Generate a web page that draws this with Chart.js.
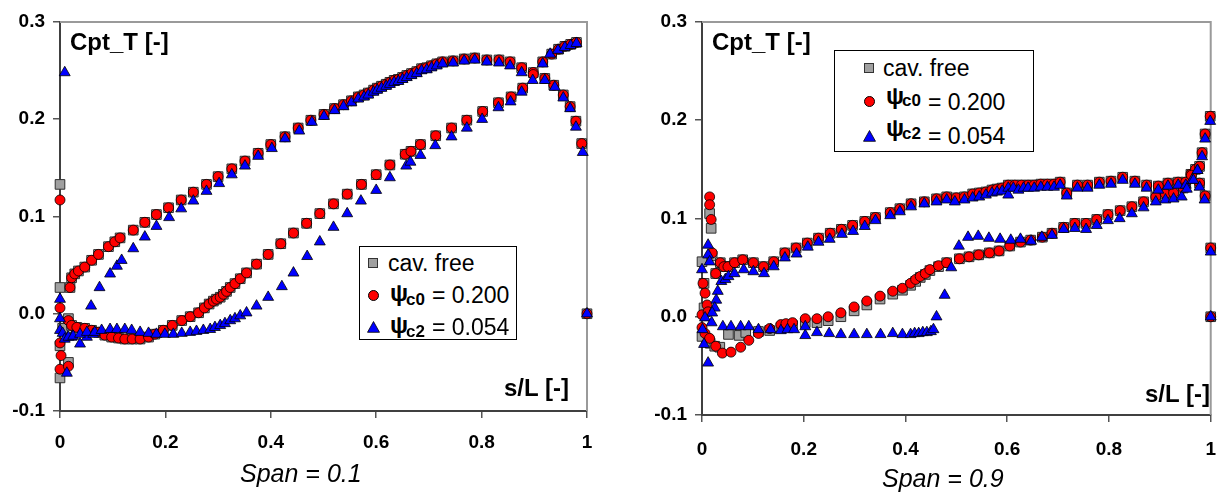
<!DOCTYPE html>
<html>
<head>
<meta charset="utf-8">
<script src="https://cdn.jsdelivr.net/npm/chart.js@4.4.1/dist/chart.umd.min.js"></script>
<style>
  body { margin:0; background:#fff; width:1232px; height:494px; position:relative; overflow:hidden;
         font-family:'Liberation Sans', Arial, sans-serif; color:#000; }
  .panel { position:absolute; top:0; width:616px; height:494px; }
  .lbl { position:absolute; line-height:1; white-space:nowrap; }
  .b { font-weight:bold; }
  .legend { position:absolute; border:1px solid #000; box-sizing:border-box; background:#fff; }
  .mk { position:absolute; box-sizing:border-box; }
  .sq { width:10px; height:10px; background:#a0a0a0; border:1px solid #333; }
  .ci { width:11px; height:11px; border-radius:50%; background:#f00; border:1px solid #000; }
</style>
</head>
<body>
<div class="panel" style="left:0"><canvas id="c1" width="616" height="494"></canvas></div>
<div class="panel" style="left:616px"><canvas id="c2" width="616" height="494"></canvas></div>

<!-- labels, span 0.1 -->
<div class="lbl b" style="left:70px;top:30px;font-size:24px">Cpt_T [-]</div>
<div class="lbl b" style="left:504px;top:376px;font-size:24px">s/L [-]</div>
<div class="lbl" style="left:240px;top:461px;font-size:25px;font-style:italic">Span = 0.1</div>

<div class="legend" style="left:359px;top:246px;width:158px;height:94px"></div>
<div class="mk sq" style="left:368px;top:258px"></div>
<div class="lbl" style="left:388px;top:252px;font-size:23px">cav. free</div>
<div class="mk ci" style="left:368px;top:290px"></div>
<div class="lbl b" style="left:390px;top:281px;font-size:24px">ψ</div>
<div class="lbl b" style="left:406px;top:291px;font-size:17px">c0</div>
<div class="lbl" style="left:432px;top:284px;font-size:23px">= 0.200</div>
<svg class="mk" width="13" height="12" style="left:367px;top:321px"><polygon points="6.5,0.5 12.5,11.3 0.5,11.3" fill="#0000ff" stroke="#000" stroke-width="0.8"/></svg>
<div class="lbl b" style="left:390px;top:313px;font-size:24px">ψ</div>
<div class="lbl b" style="left:406px;top:323px;font-size:17px">c2</div>
<div class="lbl" style="left:432px;top:316px;font-size:23px">= 0.054</div>

<!-- labels, span 0.9 -->
<div class="lbl b" style="left:712px;top:30px;font-size:24px">Cpt_T [-]</div>
<div class="lbl b" style="left:1145px;top:382px;font-size:24px">s/L [-]</div>
<div class="lbl" style="left:882px;top:466px;font-size:25px;font-style:italic">Span = 0.9</div>

<div class="legend" style="left:834px;top:50px;width:200px;height:102px"></div>
<div class="mk sq" style="left:864px;top:63px"></div>
<div class="lbl" style="left:883px;top:57px;font-size:23px">cav. free</div>
<div class="mk ci" style="left:864px;top:96px"></div>
<div class="lbl b" style="left:886px;top:84px;font-size:24px">ψ</div>
<div class="lbl b" style="left:902px;top:92px;font-size:17px">c0</div>
<div class="lbl" style="left:928px;top:91px;font-size:23px">= 0.200</div>
<svg class="mk" width="13" height="12" style="left:863px;top:130px"><polygon points="6.5,0.5 12.5,11.3 0.5,11.3" fill="#0000ff" stroke="#000" stroke-width="0.8"/></svg>
<div class="lbl b" style="left:886px;top:116px;font-size:24px">ψ</div>
<div class="lbl b" style="left:902px;top:125px;font-size:17px">c2</div>
<div class="lbl" style="left:928px;top:125px;font-size:23px">= 0.054</div>

<script>
// series labels
const seriesLabels = ['cav. free', 'ψc0 = 0.200', 'ψc2 = 0.054'];

// Span = 0.1 : [s/L, Cpt_T]
const span1Free = [
  [0.000,0.133],[0.000,0.027],[0.000,-0.033],[0.000,-0.066],[0.016,-0.050],[0.016,-0.005],[0.005,-0.015],
  [0.019,0.027],[0.022,0.037],[0.028,0.041],[0.035,0.044],[0.047,0.048],[0.060,0.055],[0.073,0.061],[0.092,0.069],
  [0.104,0.074],[0.114,0.078],[0.139,0.086],[0.161,0.094],[0.183,0.102],[0.206,0.109],[0.230,0.117],[0.253,0.125],
  [0.278,0.133],[0.300,0.141],[0.326,0.149],[0.351,0.157],[0.376,0.165],[0.400,0.174],[0.427,0.182],[0.452,0.191],
  [0.476,0.199],[0.501,0.205],[0.521,0.211],[0.538,0.215],[0.553,0.219],[0.566,0.223],[0.577,0.225],[0.585,0.227],
  [0.595,0.230],[0.602,0.232],[0.610,0.234],[0.619,0.236],[0.626,0.238],[0.634,0.240],[0.642,0.241],[0.650,0.243],
  [0.658,0.245],[0.667,0.247],[0.677,0.249],[0.686,0.252],[0.696,0.253],[0.705,0.255],[0.715,0.257],[0.726,0.259],
  [0.746,0.260],[0.767,0.262],[0.787,0.263],[0.810,0.261],[0.833,0.261],[0.854,0.259],[0.876,0.253],[0.898,0.248],
  [0.920,0.242],[0.937,0.235],[0.955,0.225],[0.968,0.213],[0.979,0.198],[0.990,0.175],[1.000,0.000],
  [0.022,-0.012],[0.032,-0.014],[0.047,-0.015],[0.060,-0.017],[0.073,-0.019],[0.085,-0.022],[0.098,-0.024],
  [0.111,-0.025],[0.123,-0.026],[0.137,-0.026],[0.152,-0.026],[0.168,-0.024],[0.180,-0.021],[0.196,-0.017],
  [0.213,-0.012],[0.231,-0.007],[0.247,-0.003],[0.263,0.001],[0.274,0.006],[0.283,0.010],[0.291,0.013],[0.297,0.015],
  [0.304,0.017],[0.310,0.020],[0.316,0.023],[0.323,0.027],[0.332,0.031],[0.342,0.036],[0.354,0.042],[0.373,0.051],
  [0.395,0.061],[0.419,0.072],[0.443,0.083],[0.468,0.093],[0.493,0.103],[0.519,0.113],[0.545,0.123],[0.572,0.133],
  [0.600,0.143],[0.626,0.153],[0.655,0.164],[0.666,0.167],[0.684,0.174],[0.713,0.183],[0.743,0.191],[0.772,0.199],
  [0.802,0.208],[0.832,0.217],[0.856,0.223],[0.878,0.232],[0.916,0.259],[0.933,0.267],[0.946,0.272],[0.958,0.275],
  [0.969,0.277],[0.980,0.279]
];
const span1Psi0 = [
  [0.000,0.117],[0.000,0.006],[0.000,-0.030],[0.002,-0.043],[0.000,-0.057],[0.016,-0.054],
  [0.019,0.027],[0.022,0.037],[0.028,0.041],[0.035,0.044],[0.047,0.048],[0.060,0.055],[0.073,0.061],[0.092,0.069],
  [0.104,0.074],[0.114,0.078],[0.139,0.086],[0.161,0.094],[0.183,0.102],[0.206,0.109],[0.230,0.117],[0.253,0.125],
  [0.278,0.133],[0.300,0.141],[0.326,0.149],[0.351,0.157],[0.376,0.165],[0.400,0.174],[0.427,0.182],[0.452,0.191],
  [0.476,0.199],[0.501,0.205],[0.521,0.211],[0.538,0.215],[0.553,0.219],[0.566,0.223],[0.577,0.225],[0.585,0.227],
  [0.595,0.230],[0.602,0.232],[0.610,0.234],[0.619,0.236],[0.626,0.238],[0.634,0.240],[0.642,0.241],[0.650,0.243],
  [0.658,0.245],[0.667,0.247],[0.677,0.249],[0.686,0.252],[0.696,0.253],[0.705,0.255],[0.715,0.257],[0.726,0.259],
  [0.746,0.260],[0.767,0.262],[0.787,0.263],[0.810,0.261],[0.833,0.261],[0.854,0.259],[0.876,0.253],[0.898,0.248],
  [0.920,0.242],[0.937,0.235],[0.955,0.225],[0.968,0.213],[0.979,0.198],[0.990,0.175],[1.000,0.000],
  [0.016,-0.007],[0.022,-0.012],[0.032,-0.014],[0.047,-0.015],[0.060,-0.017],[0.073,-0.019],[0.085,-0.022],[0.098,-0.024],
  [0.111,-0.025],[0.123,-0.026],[0.137,-0.026],[0.152,-0.026],[0.168,-0.024],[0.180,-0.021],[0.196,-0.017],
  [0.213,-0.012],[0.231,-0.007],[0.247,-0.003],[0.263,0.001],[0.274,0.006],[0.283,0.010],[0.291,0.013],[0.297,0.015],
  [0.304,0.017],[0.310,0.020],[0.316,0.023],[0.323,0.027],[0.332,0.031],[0.342,0.036],[0.354,0.042],[0.373,0.051],
  [0.395,0.061],[0.419,0.072],[0.443,0.083],[0.468,0.093],[0.493,0.103],[0.519,0.113],[0.545,0.123],[0.572,0.133],
  [0.600,0.143],[0.626,0.153],[0.655,0.164],[0.666,0.167],[0.684,0.174],[0.713,0.183],[0.743,0.191],[0.772,0.199],
  [0.802,0.208],[0.832,0.217],[0.856,0.223],[0.878,0.232],[0.898,0.246],[0.916,0.259],[0.933,0.267],[0.946,0.272],
  [0.958,0.275],[0.969,0.277],[0.980,0.279]
];
const span1Psi2 = [
  [0.009,0.248],[0.000,0.015],[0.000,-0.005],[0.000,-0.017],[0.013,-0.061],
  [0.005,-0.020],[0.009,-0.026],[0.022,-0.024],[0.038,-0.031],[0.051,-0.024],[0.063,-0.021],
  [0.059,0.008],[0.075,0.027],[0.095,0.041],[0.108,0.049],[0.117,0.055],[0.139,0.067],[0.161,0.079],[0.183,0.090],
  [0.207,0.099],[0.230,0.108],[0.253,0.116],[0.278,0.126],[0.302,0.134],[0.326,0.143],[0.351,0.152],[0.376,0.162],
  [0.402,0.170],[0.427,0.180],[0.454,0.188],[0.478,0.197],[0.501,0.203],[0.521,0.209],[0.538,0.213],[0.553,0.217],
  [0.566,0.221],[0.577,0.223],[0.585,0.225],[0.595,0.228],[0.602,0.230],[0.610,0.232],[0.619,0.234],[0.626,0.236],
  [0.634,0.238],[0.642,0.239],[0.650,0.241],[0.658,0.243],[0.667,0.245],[0.677,0.247],[0.686,0.250],[0.696,0.251],
  [0.705,0.253],[0.715,0.255],[0.726,0.257],[0.746,0.258],[0.767,0.260],[0.787,0.261],[0.810,0.259],[0.833,0.258],
  [0.854,0.255],[0.876,0.248],[0.920,0.240],[0.939,0.233],[0.955,0.222],[0.968,0.211],[0.979,0.192],[0.992,0.166],
  [1.000,0.000],
  [0.016,-0.024],[0.025,-0.023],[0.038,-0.021],[0.051,-0.019],[0.066,-0.019],[0.079,-0.017],[0.095,-0.016],
  [0.108,-0.016],[0.123,-0.016],[0.136,-0.017],[0.152,-0.019],[0.168,-0.020],[0.183,-0.021],[0.199,-0.021],
  [0.215,-0.021],[0.231,-0.020],[0.247,-0.019],[0.259,-0.018],[0.272,-0.017],[0.285,-0.016],[0.294,-0.014],
  [0.304,-0.012],[0.313,-0.010],[0.323,-0.007],[0.332,-0.005],[0.342,-0.002],[0.354,0.001],[0.373,0.008],
  [0.395,0.017],[0.421,0.028],[0.443,0.042],[0.469,0.059],[0.493,0.074],[0.519,0.089],[0.545,0.103],[0.571,0.116],
  [0.600,0.127],[0.626,0.140],[0.657,0.152],[0.665,0.156],[0.684,0.163],[0.712,0.173],[0.743,0.182],[0.772,0.191],
  [0.801,0.200],[0.832,0.212],[0.855,0.218],[0.876,0.228],[0.897,0.240],[0.916,0.257],[0.930,0.267],[0.945,0.271],
  [0.958,0.274],[0.969,0.276],[0.980,0.278]
];

// Span = 0.9 : [s/L, Cpt_T]
const span9Free = [
  [0.015,0.105],[0.018,0.090],[0.000,0.056],[0.004,0.034],[0.004,0.009],[0.000,-0.020],[0.016,-0.027],[0.025,-0.030],
  [0.035,-0.031],[0.020,0.062],[0.027,0.044],
  [0.036,0.055],[0.043,0.051],[0.051,0.051],[0.064,0.055],[0.080,0.058],[0.101,0.055],[0.121,0.051],[0.141,0.056],
  [0.163,0.065],[0.185,0.070],[0.207,0.075],[0.229,0.080],[0.252,0.085],[0.274,0.089],[0.296,0.093],[0.320,0.097],
  [0.341,0.101],[0.370,0.106],[0.389,0.110],[0.411,0.115],[0.437,0.117],[0.461,0.120],[0.481,0.122],[0.500,0.121],
  [0.516,0.122],[0.532,0.125],[0.545,0.126],[0.558,0.127],[0.570,0.129],[0.580,0.130],[0.590,0.131],[0.602,0.134],
  [0.615,0.134],[0.628,0.134],[0.641,0.134],[0.653,0.134],[0.666,0.135],[0.679,0.135],[0.692,0.135],[0.704,0.137],
  [0.717,0.126],[0.738,0.134],[0.758,0.134],[0.781,0.137],[0.804,0.138],[0.827,0.142],[0.851,0.138],[0.874,0.134],
  [0.897,0.133],[0.916,0.136],[0.936,0.137],[0.951,0.137],[0.961,0.145],[0.970,0.150],[0.978,0.153],[0.983,0.167],
  [0.989,0.186],[0.999,0.204],[1.000,0.070],[1.000,0.000],[0.978,0.136],[0.989,0.123],
  [0.052,-0.018],[0.073,-0.019],[0.086,-0.016],[0.111,-0.015],[0.133,-0.014],[0.155,-0.011],[0.165,-0.010],
  [0.178,-0.009],[0.203,-0.006],[0.226,-0.006],[0.248,-0.004],[0.273,0.000],[0.299,0.006],[0.324,0.012],[0.350,0.018],
  [0.375,0.023],[0.394,0.027],[0.410,0.032],[0.420,0.036],[0.429,0.040],[0.439,0.043],[0.448,0.047],[0.465,0.051],
  [0.481,0.055],[0.506,0.059],[0.525,0.061],[0.544,0.063],[0.565,0.065],[0.584,0.067],[0.605,0.072],[0.626,0.076],
  [0.646,0.078],[0.669,0.081],[0.688,0.085],[0.711,0.091],[0.733,0.095],[0.755,0.095],[0.776,0.099],[0.798,0.104],
  [0.822,0.108],[0.845,0.112],[0.868,0.117],[0.892,0.122],[0.911,0.125],[0.927,0.126],[0.946,0.131],[0.962,0.144]
];
const span9Psi0 = [
  [0.015,0.122],[0.015,0.114],[0.018,0.099],[0.020,0.065],[0.002,0.034],[0.006,0.024],[0.000,0.002],[0.027,0.044],
  [0.010,0.012],[0.012,0.005],
  [0.036,0.055],[0.043,0.051],[0.051,0.051],[0.064,0.055],[0.080,0.058],[0.101,0.055],[0.121,0.051],[0.141,0.056],
  [0.163,0.065],[0.185,0.070],[0.207,0.075],[0.229,0.080],[0.252,0.085],[0.274,0.089],[0.296,0.093],[0.320,0.097],
  [0.341,0.101],[0.370,0.106],[0.389,0.110],[0.411,0.115],[0.437,0.117],[0.461,0.120],[0.481,0.122],[0.500,0.121],
  [0.516,0.122],[0.532,0.125],[0.545,0.126],[0.558,0.127],[0.570,0.129],[0.580,0.130],[0.590,0.131],[0.602,0.134],
  [0.615,0.134],[0.628,0.134],[0.641,0.134],[0.653,0.134],[0.666,0.135],[0.679,0.135],[0.692,0.135],[0.704,0.137],
  [0.717,0.126],[0.738,0.134],[0.758,0.134],[0.781,0.137],[0.804,0.138],[0.827,0.142],[0.851,0.138],[0.874,0.134],
  [0.897,0.133],[0.916,0.136],[0.936,0.137],[0.951,0.137],[0.961,0.145],[0.970,0.150],[0.978,0.153],[0.983,0.167],
  [0.989,0.186],[0.999,0.204],[1.000,0.070],[1.000,0.000],[0.978,0.136],[0.989,0.123],
  [0.000,-0.011],[0.006,-0.017],[0.015,-0.022],[0.027,-0.030],[0.040,-0.037],[0.057,-0.036],[0.076,-0.031],
  [0.092,-0.024],[0.111,-0.017],[0.133,-0.012],[0.155,-0.008],[0.165,-0.007],[0.178,-0.006],[0.203,-0.002],
  [0.226,-0.002],[0.248,0.000],[0.273,0.004],[0.299,0.010],[0.324,0.016],[0.350,0.021],[0.375,0.026],[0.394,0.029],
  [0.410,0.034],[0.420,0.038],[0.429,0.041],[0.439,0.044],[0.448,0.048],[0.465,0.052],[0.481,0.055],[0.506,0.059],
  [0.525,0.061],[0.544,0.063],[0.565,0.065],[0.584,0.067],[0.605,0.072],[0.626,0.076],[0.646,0.078],[0.669,0.081],
  [0.688,0.085],[0.711,0.091],[0.733,0.095],[0.755,0.095],[0.776,0.099],[0.798,0.104],[0.822,0.108],[0.845,0.112],
  [0.868,0.117],[0.892,0.122],[0.911,0.125],[0.927,0.126],[0.946,0.131],[0.962,0.144]
];
const span9Psi2 = [
  [0.012,0.073],[0.012,0.063],[0.015,0.056],[0.000,0.048],[0.031,0.026],[0.028,0.017],[0.025,0.009],[0.020,0.004],
  [0.006,-0.001],[0.001,-0.013],[0.004,-0.028],[0.012,-0.047],[0.019,-0.006],
  [0.038,0.036],[0.046,0.038],[0.052,0.041],[0.064,0.044],[0.082,0.048],[0.101,0.046],[0.122,0.044],[0.141,0.051],
  [0.163,0.060],[0.186,0.064],[0.208,0.071],[0.229,0.076],[0.251,0.079],[0.275,0.084],[0.297,0.087],[0.320,0.092],
  [0.341,0.098],[0.370,0.103],[0.389,0.107],[0.411,0.112],[0.437,0.115],[0.461,0.117],[0.481,0.119],[0.497,0.117],
  [0.516,0.119],[0.532,0.121],[0.545,0.122],[0.558,0.124],[0.570,0.126],[0.580,0.127],[0.590,0.128],[0.602,0.131],
  [0.602,0.124],[0.612,0.131],[0.622,0.129],[0.632,0.131],[0.641,0.131],[0.653,0.131],[0.666,0.132],[0.679,0.132],
  [0.692,0.132],[0.704,0.134],[0.717,0.123],[0.738,0.131],[0.758,0.131],[0.781,0.134],[0.804,0.135],[0.827,0.139],
  [0.851,0.135],[0.874,0.131],[0.897,0.129],[0.916,0.133],[0.936,0.134],[0.951,0.134],[0.963,0.139],[0.974,0.149],
  [0.983,0.163],[0.989,0.181],[0.999,0.199],[1.000,0.066],[1.000,0.000],[0.978,0.132],[0.988,0.119],
  [0.041,-0.010],[0.057,-0.010],[0.076,-0.010],[0.092,-0.010],[0.111,-0.013],[0.135,-0.013],[0.155,-0.014],
  [0.168,-0.013],[0.181,-0.013],[0.203,-0.019],[0.203,-0.010],[0.226,-0.016],[0.250,-0.017],[0.273,-0.018],
  [0.299,-0.018],[0.324,-0.018],[0.351,-0.018],[0.375,-0.017],[0.394,-0.018],[0.410,-0.018],[0.418,-0.017],
  [0.426,-0.017],[0.434,-0.016],[0.442,-0.016],[0.450,-0.015],[0.455,-0.013],[0.461,0.000],[0.477,0.022],
  [0.490,0.050],[0.505,0.072],[0.523,0.081],[0.543,0.082],[0.564,0.080],[0.586,0.079],[0.607,0.078],[0.626,0.079],
  [0.647,0.077],[0.668,0.081],[0.688,0.083],[0.711,0.089],[0.733,0.090],[0.755,0.089],[0.776,0.093],[0.798,0.098],
  [0.821,0.100],[0.845,0.105],[0.868,0.111],[0.892,0.117],[0.911,0.119],[0.927,0.120],[0.943,0.122],[0.953,0.130],
  [0.966,0.139],[0.974,0.149]
];

const fontFam = "'Liberation Sans', Arial, sans-serif";

// light grey frame on the top and right of the plot area
const framePlugin = {
  id: 'frame',
  beforeDatasetsDraw(chart) {
    const { ctx, chartArea: a } = chart;
    ctx.save();
    ctx.strokeStyle = '#9a9a9a';
    ctx.lineWidth = 2;
    ctx.beginPath();
    ctx.moveTo(a.left, a.top);
    ctx.lineTo(a.right, a.top);
    ctx.lineTo(a.right, a.bottom);
    ctx.stroke();
    ctx.restore();
  }
};

function toXY(list) {
  return list.map(p => ({ x: p[0], y: p[1] }));
}

function makeChart(id, free, psi0, psi2, box) {
  const tickFont = { family: fontFam, size: 19, weight: 'bold' };
  return new Chart(document.getElementById(id), {
    type: 'scatter',
    data: {
      datasets: [
        { label: seriesLabels[2], data: toXY(psi2), pointStyle: 'triangle', pointRadius: 6.3,
          backgroundColor: '#0000ff', borderColor: '#000', borderWidth: 0.8, order: 1, clip: false },
        { label: seriesLabels[1], data: toXY(psi0), pointStyle: 'circle', pointRadius: 5,
          backgroundColor: '#ff0000', borderColor: '#000', borderWidth: 0.8, order: 2, clip: false },
        { label: seriesLabels[0], data: toXY(free), pointStyle: 'rect', pointRadius: 6.8,
          backgroundColor: '#a0a0a0', borderColor: '#303030', borderWidth: 1, order: 3, clip: false }
      ]
    },
    options: {
      responsive: false,
      animation: false,
      devicePixelRatio: 1,
      layout: { padding: { left: 0, top: 22, right: box.right, bottom: 0 } },
      plugins: { legend: { display: false }, tooltip: { enabled: false } },
      scales: {
        x: {
          type: 'linear', min: 0, max: 1,
          afterFit: s => { s.height = box.xh; },
          ticks: {
            stepSize: 0.2, padding: box.xpad, color: '#000', font: tickFont, maxRotation: 0,
            callback: v => Math.abs(v) < 1e-9 ? '0' : Math.abs(v - 1) < 1e-9 ? '1' : v.toFixed(1)
          },
          grid: { drawOnChartArea: false, drawTicks: true, tickLength: 7, color: '#555', lineWidth: 1.5 },
          border: { display: true, color: '#404040', width: 2 }
        },
        y: {
          min: -0.1, max: 0.3,
          afterFit: s => { s.width = box.yw; },
          ticks: {
            stepSize: 0.1, padding: 8, color: '#000', font: tickFont,
            callback: v => v.toFixed(1)
          },
          grid: { drawOnChartArea: false, drawTicks: true, tickLength: 7, color: '#555', lineWidth: 1.5 },
          border: { display: true, color: '#404040', width: 2 }
        }
      }
    },
    plugins: [framePlugin]
  });
}

makeChart('c1', span1Free, span1Psi0, span1Psi2, { yw: 60, xh: 83, right: 29, xpad: 13 });
makeChart('c2', span9Free, span9Psi0, span9Psi2, { yw: 86, xh: 79, right: 7, xpad: 16 });
</script>
</body>
</html>
